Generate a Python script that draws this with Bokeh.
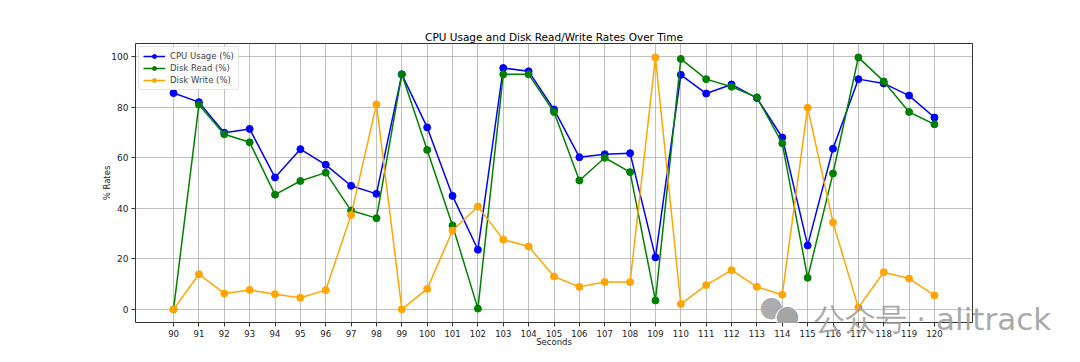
from bokeh.plotting import figure
from bokeh.models import FixedTicker, Range1d, Legend, Label, Title
from bokeh.embed import file_html
from bokeh.resources import INLINE

seconds = list(range(90, 121))
cpu_usage = [85.6, 82.0, 69.9, 71.4, 52.2, 63.4, 57.2, 48.9, 45.7, 93.0, 72.0, 44.9,
             23.6, 95.5, 94.2, 79.1, 60.2, 61.4, 61.8, 20.6, 92.8, 85.4, 89.0, 83.6,
             68.0, 25.3, 63.6, 91.1, 89.4, 84.6, 75.9]
disk_read = [0.0, 81.0, 69.3, 66.1, 45.4, 50.8, 54.1, 39.1, 36.1, 93.0, 63.1, 33.2,
             0.3, 93.0, 93.0, 78.1, 51.0, 60.0, 54.3, 3.5, 99.1, 91.1, 88.1, 83.9,
             65.7, 12.5, 53.8, 99.7, 90.2, 78.1, 73.2]
disk_write = [0.0, 13.9, 6.3, 7.7, 6.0, 4.6, 7.6, 37.3, 81.1, 0.0, 8.1, 31.2,
              40.7, 27.6, 24.9, 13.0, 8.9, 10.8, 10.8, 99.7, 2.1, 9.6, 15.5, 8.9,
              5.8, 79.8, 34.4, 0.7, 14.7, 12.2, 5.5]
y_ticks = [0, 20, 40, 60, 80, 100]

FONT = "DejaVu Sans"

p = figure(width=1080, height=362, output_backend="svg", toolbar_location=None,
           x_range=Range1d(88.5, 121.5), y_range=Range1d(-5.2, 105.2),
           title="CPU Usage and Disk Read/Write Rates Over Time",
           min_border_left=135, min_border_right=108, min_border_top=43,
           min_border_bottom=40)

p.title.align = "center"
p.title.text_font = FONT
p.title.text_font_size = "10.5px"
p.title.text_font_style = "normal"
p.title.text_color = "#000000"
p.title.standoff = 2

p.outline_line_color = "#333333"
p.outline_line_width = 1

for ax in (p.xaxis[0], p.yaxis[0]):
    ax.axis_line_color = None
    ax.major_tick_in = 0
    ax.major_tick_out = 4
    ax.minor_tick_line_color = None
    ax.major_tick_line_color = "#333333"
    ax.major_label_text_font = FONT
    ax.major_label_text_color = "#222222"
    ax.axis_label_text_font = FONT
    ax.axis_label_text_font_style = "normal"
    ax.axis_label_text_font_size = "8.5px"
    ax.axis_label_text_color = "#222222"

p.xaxis.ticker = FixedTicker(ticks=seconds)
p.yaxis.ticker = FixedTicker(ticks=y_ticks)
p.xaxis.major_label_text_font_size = "8.5px"
p.yaxis.major_label_text_font_size = "9px"
p.xaxis.major_label_standoff = 3
p.yaxis.major_label_standoff = 3
p.xaxis.axis_label = "Seconds"
p.yaxis.axis_label = "% Rates"
p.xaxis.axis_label_standoff = -3
p.yaxis.axis_label_standoff = -4

p.xgrid.grid_line_color = "#b0b0b0"
p.ygrid.grid_line_color = "#b0b0b0"
p.xgrid.grid_line_alpha = 0.8
p.ygrid.grid_line_alpha = 0.8

series = [("CPU Usage (%)", cpu_usage, "blue"),
          ("Disk Read (%)", disk_read, "green"),
          ("Disk Write (%)", disk_write, "orange")]

items = []
for name, vals, col in series:
    l = p.line(seconds, vals, line_color=col, line_width=1.5)
    s = p.scatter(seconds, vals, marker="circle", size=7, fill_color=col, line_color=col)
    items.append((name, [l, s]))

legend = Legend(items=items, location="top_left")
legend.label_text_font = FONT
legend.label_text_font_size = "8.5px"
legend.label_height = 10
legend.glyph_height = 10
legend.glyph_width = 22
legend.spacing = 2
legend.padding = 4
legend.margin = 3
legend.border_line_color = "#cccccc"
legend.border_radius = 3
legend.background_fill_alpha = 0.8
p.add_layout(legend)

# watermark icon: two overlapping bubbles (screen pixels relative to the plot frame)
icon1 = Label(x=636, y=16, x_units="screen", y_units="screen", text="●",
              text_align="center", text_baseline="middle",
              text_font=FONT, text_font_size="28px", text_color="#a8a8a8", text_alpha=0.95)
ring = Label(x=652, y=7, x_units="screen", y_units="screen", text="●",
             text_align="center", text_baseline="middle",
             text_font=FONT, text_font_size="32px", text_color="#ffffff", text_alpha=1.0)
icon2 = Label(x=652, y=7, x_units="screen", y_units="screen", text="●",
              text_align="center", text_baseline="middle",
              text_font=FONT, text_font_size="28px", text_color="#a0a0a0", text_alpha=0.95)
p.add_layout(icon1)
p.add_layout(ring)
p.add_layout(icon2)

# watermark text as a title of the lower panel (not clipped by the frame);
# a strongly negative standoff keeps it from taking room and lifts it over the plot
wm = Title(text="公众号 · alitrack", align="left", vertical_align="top",
           offset=678, standoff=-98, text_font=FONT, text_font_size="31px",
           text_font_style="normal", text_color="#9a9a9a", text_alpha=0.85)
p.add_layout(wm, "below")

open("out.html", "w").write(file_html(p, INLINE))
